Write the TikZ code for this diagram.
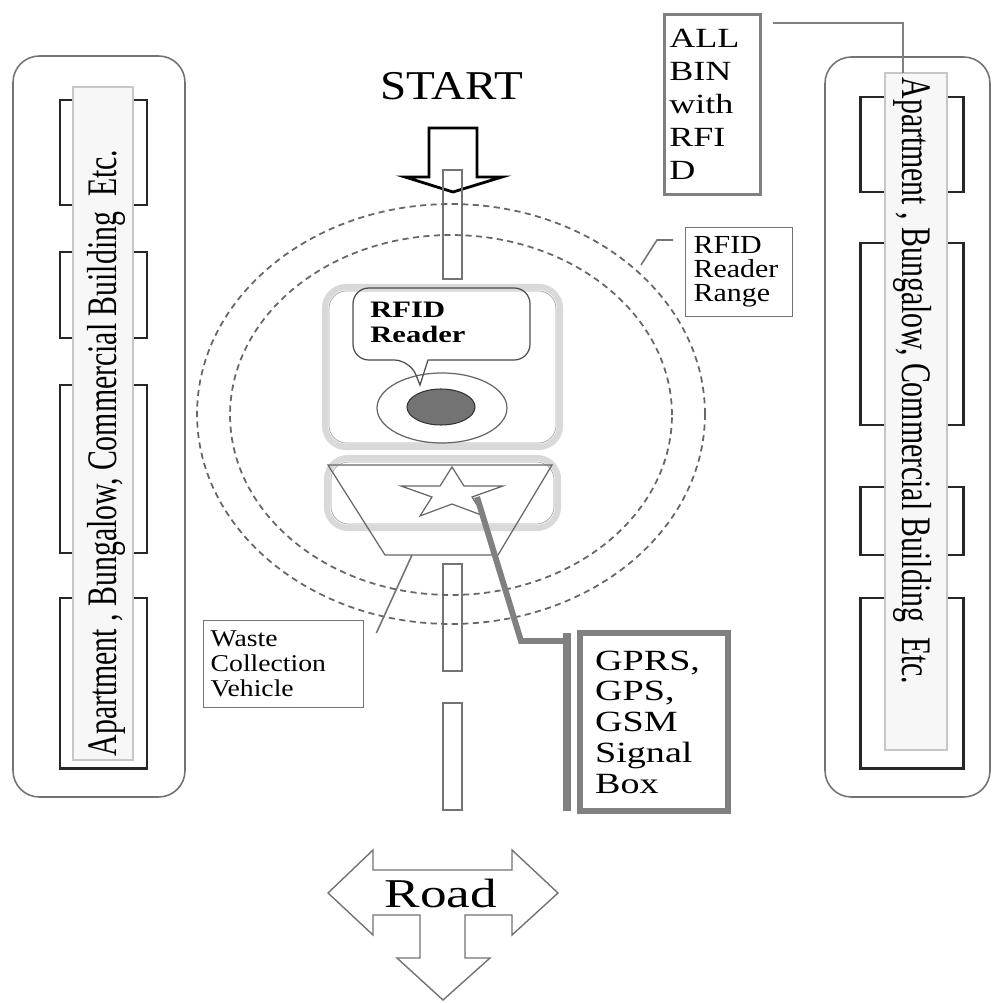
\documentclass[tikz,border=0pt]{standalone}
\usepackage{fontspec}
\setmainfont{Liberation Serif}[FakeStretch=1.15]
\newfontfamily\widefont{Liberation Serif}[FakeStretch=1.3]
\newfontfamily\narrowfont{Liberation Serif}[FakeStretch=0.71]
\usetikzlibrary{calc}

\tikzset{
  bldg/.style={draw=black!55, line width=0.9pt, rounded corners=15pt},
  flatbox/.style={draw=black!85, line width=1.7pt},
  strip/.style={draw=black!22, fill=black!3, line width=1.2pt},
  bldgtext/.style={font=\narrowfont\fontsize{23.9}{24}\selectfont, inner sep=0pt},
  roaddash/.style={draw=black!55, line width=0.7pt},
  rangering/.style={draw=black!60, line width=1pt, dash pattern=on 3.5pt off 2.5pt},
  unitbox/.style={draw=black!15, line width=3.5pt, rounded corners=12pt},
  thinline/.style={draw=black!60, line width=0.7pt},
  lblbox/.style={draw=black!55, line width=0.8pt, align=left, anchor=north west, inner ysep=0pt},
  leader/.style={draw=black!55, line width=0.9pt},
  sigline/.style={draw=black!50, line width=3.4pt},
}

\begin{document}
\begin{tikzpicture}[x=0.02cm, y=-0.02cm]
\path[use as bounding box] (0,0) rectangle (994,1003);

\draw[bldg] (13,56) rectangle (185,797);
\foreach \t/\b in {100/205, 252/338, 385/553, 598/768}
  \draw[flatbox] (60,\t) rectangle (147,\b);
\draw[strip] (73,87) rectangle (133,760);
\node[bldgtext, rotate=90] (lefttext) at (106,453) {Apartment , Bungalow, Commercial Building\ \ Etc.};

\draw[bldg] (825,57) rectangle (990,797);
\foreach \t/\b in {97/192, 243/425, 487/555, 598/768}
  \draw[flatbox] (860,\t) rectangle (963,\b);
\draw[strip] (885,73) rectangle (947,750);
\node[bldgtext, rotate=-90] (righttext) at (913,381) {Apartment , Bungalow, Commercial Building\ \ Etc.};
\coordinate (bintop) at (903,73);

\node[lblbox, draw=black!50, line width=1.5pt, inner xsep=0.1cm, text width=1.72cm, minimum height=3.6cm,
  font=\widefont\fontsize{15.8}{18.8}\selectfont] (allbin) at (663,13) {ALL\\BIN\\with\\RFI\\D};
\draw[draw=black!50, line width=1.4pt] ($(allbin.north east)+(11,10)$) -| (bintop);

\node[font=\fontsize{23.3}{24}\selectfont, anchor=base] (start) at (452,100) {START};
\draw[black, line width=1.6pt, line join=miter] (429,128) -- (477,128) -- (477,177) -- (502,177)
  -- (453,192) -- (405,177) -- (429,177) -- cycle;

\foreach \t/\b in {170/279, 564/671, 703/810}
  \draw[roaddash] (443,\t) rectangle (462,\b);

\draw[rangering] (451,414) ellipse [x radius=5.08cm, y radius=4.2cm];
\draw[rangering] (451,415) ellipse [x radius=4.42cm, y radius=3.6cm];

\node[lblbox, inner xsep=0.16cm, text width=1.82cm, minimum height=1.78cm,
  font=\fontsize{14.8}{13.7}\selectfont] (rangebox) at (685,227) {RFID\\Reader\\Range};
\coordinate (rangeedge) at (641,265);
\draw[leader] ($(rangebox.north west)+(-12,13)$) -- ++(-16,0) -- (rangeedge);

\draw[unitbox] (325,287) rectangle (560,447);
\draw[black!35, line width=0.4pt, rounded corners=10pt] (329,291) rectangle (556,443);
\draw[thinline] (442,408) ellipse [x radius=1.3cm, y radius=0.7cm];
\draw[fill=black!55, draw=black!80, line width=0.6pt] (441,407) ellipse [x radius=0.68cm, y radius=0.36cm];
\draw[draw=black!70, line width=0.7pt, rounded corners=9pt] (428,360) -- (530,360) -- (530,288)
  -- (353,288) -- (353,360) -- (410,360) [sharp corners] -- (420,385) -- cycle;
\node[anchor=north west, inner sep=0pt, align=left,
  font=\widefont\bfseries\fontsize{13.4}{14.2}\selectfont] (readertext) at (370,302) {RFID\\Reader};

\draw[unitbox] (327,458) rectangle (558,528);
\draw[black!35, line width=0.4pt, rounded corners=10pt] (331,462) rectangle (554,524);
\draw[thinline] (328,465) -- (552,465) -- (498,555) -- (385,555) -- cycle;
\draw[thinline] (452,467) -- (440,486) -- (401,486) -- (432,497) -- (420,516) -- (452,504)
  -- (484,516) -- (472,497) -- (503,486) -- (464,486) -- cycle;
\coordinate (vehfoot) at (412,555);
\coordinate (sigsrc) at (477,497);

\node[lblbox, inner xsep=0.14cm, text width=2.92cm, minimum height=1.74cm,
  font=\fontsize{13.7}{14.2}\selectfont] (wastebox) at (203,620) {Waste\\Collection\\Vehicle};
\draw[leader] (vehfoot) -- ($(wastebox.north east)+(12,13)$);

\node[lblbox, draw=black!50, line width=3.5pt, inner xsep=0.3cm, text width=2.36cm, minimum height=3.56cm,
  font=\widefont\fontsize{16.7}{17.5}\selectfont] (gprs) at (577,630) {GPRS,\\GPS,\\GSM\\Signal\\Box};
\coordinate (bartop) at ($(gprs.north west)+(-10,3)$);
\coordinate (bend) at (521,641);
\draw[draw=black!50, line width=4.5pt] (bartop) -- ($(gprs.south west)+(-10,-3)$);
\draw[sigline, line join=miter] (sigsrc) -- (bend) -- (bend -| bartop);

\draw[draw=black!55, line width=0.8pt, fill=white] (328,893) -- (373,850) -- (373,870) -- (512,870)
  -- (512,850) -- (558,893) -- (512,935) -- (512,915) -- (465,915) -- (465,958) -- (490,958)
  -- (443,1000) -- (397,958) -- (420,958) -- (420,915) -- (373,915) -- (373,935) -- cycle;
\node[font=\widefont\fontsize{23.3}{24}\selectfont, anchor=base] (road) at (441,907) {Road};
\end{tikzpicture}
\end{document}
